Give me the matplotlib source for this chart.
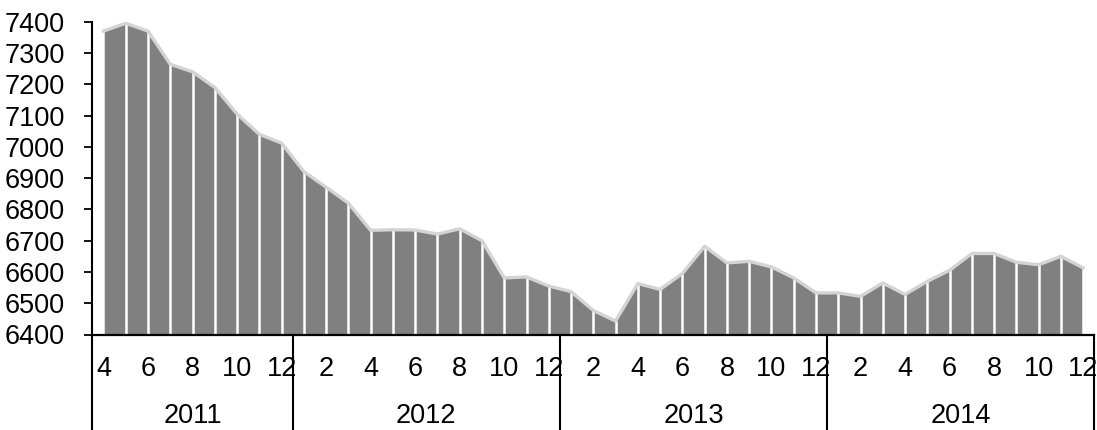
import matplotlib
matplotlib.use("Agg")
import matplotlib.pyplot as plt
import matplotlib.transforms as mtransforms

plt.rcParams['font.family'] = ['Liberation Sans', 'DejaVu Sans']

# Monthly series, April 2011 – December 2014
years = ["2011", "2012", "2013", "2014"]
year_months = [
    [4, 5, 6, 7, 8, 9, 10, 11, 12],
    list(range(1, 13)),
    list(range(1, 13)),
    list(range(1, 13)),
]
values_2011 = [7370, 7395, 7370, 7264, 7240, 7190, 7105, 7040, 7012]
values_2012 = [6921, 6871, 6820, 6733, 6735, 6734, 6721, 6738, 6700, 6581, 6584, 6555]
values_2013 = [6537, 6477, 6443, 6563, 6544, 6595, 6682, 6629, 6634, 6616, 6581, 6533]
values_2014 = [6533, 6522, 6565, 6528, 6570, 6605, 6659, 6659, 6631, 6623, 6650, 6613]
y_ticks = [6400, 6500, 6600, 6700, 6800, 6900, 7000, 7100, 7200, 7300, 7400]

values = values_2011 + values_2012 + values_2013 + values_2014
months = [m for ms in year_months for m in ms]
x = list(range(len(values)))
base = y_ticks[0]
FS = 19.5

fig = plt.figure(figsize=(10.97, 4.30), dpi=100)
ax = fig.add_axes([92.3 / 1097, 1 - 334.5 / 430, 1002 / 1097, (334.5 - 21.7) / 430])

ax.fill_between(x, values, base, color="#808080", linewidth=0, zorder=1)
ax.vlines(x, base, values, color="white", linewidth=1.8, zorder=2)
ax.plot(x, values, color="#d4d4d4", linewidth=2.4, zorder=3, solid_joinstyle="round")

ax.set_xlim(-0.5, len(values) - 0.5)
ax.set_ylim(y_ticks[0], y_ticks[-1])
ax.set_yticks(y_ticks)
ax.set_yticklabels([str(t) for t in y_ticks], fontsize=FS)
ax.tick_params(axis="y", length=6, width=1.3, pad=14, direction="out")
ax.set_xticks([])

for side in ("top", "right"):
    ax.spines[side].set_visible(False)
ax.spines["left"].set_linewidth(1.5)
ax.spines["bottom"].set_linewidth(1.6)

trans = mtransforms.blended_transform_factory(ax.transData, ax.transAxes)

# Month labels (every other month)
for i, m in enumerate(months):
    if i % 2 == 0:
        ax.text(i, -0.109, str(m), transform=trans, ha="center", va="center",
                fontsize=FS, clip_on=False)

# Year group labels and separators
start = 0
bounds = [-0.5]
for yr, ms in zip(years, year_months):
    end = start + len(ms)
    ax.text((start + end - 1) / 2, -0.259, yr, transform=trans, ha="center",
            va="center", fontsize=FS, clip_on=False)
    bounds.append(end - 0.5)
    start = end

for b in bounds:
    ax.plot([b, b], [0, -0.4], transform=trans, color="black", linewidth=1.5,
            clip_on=False, solid_capstyle="butt")

fig.savefig("out.png", dpi=100)
